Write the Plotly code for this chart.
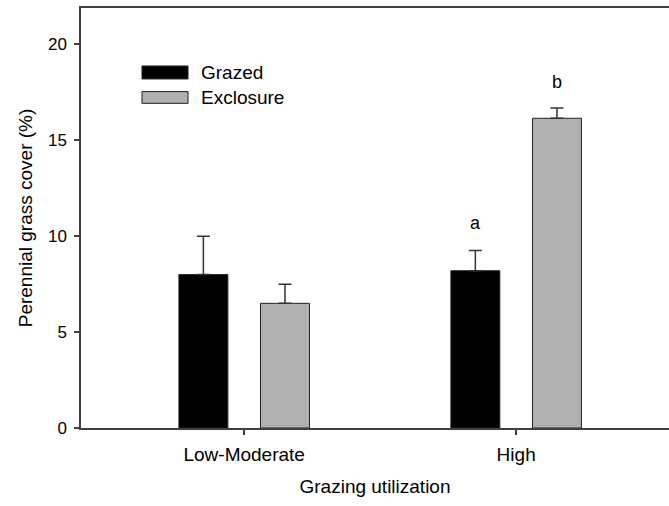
import plotly.graph_objects as go

categories = ["Low-Moderate", "High"]
grazed = [8.0, 8.2]
grazed_se = [2.0, 1.05]
exclosure = [6.5, 16.15]
exclosure_se = [1.0, 0.53]
letters_grazed = ["", "a"]
letters_exclosure = ["", "b"]

FONT = "Liberation Sans, Arial, sans-serif"
AX = "#404040"
GRAY = "#b0b0b0"

fig = go.Figure()
fig.add_trace(go.Bar(
    x=categories, y=grazed, name="Grazed",
    marker=dict(color="black", line=dict(color="#222", width=1)),
    width=0.18, offset=-0.24,
    error_y=dict(type="data", array=grazed_se, symmetric=False, arrayminus=[0, 0],
                 color="#333", thickness=1.5, width=6.5),
    showlegend=False,
))
fig.add_trace(go.Bar(
    x=categories, y=exclosure, name="Exclosure",
    marker=dict(color=GRAY, line=dict(color="#222", width=1)),
    width=0.18, offset=0.06,
    error_y=dict(type="data", array=exclosure_se, symmetric=False, arrayminus=[0, 0],
                 color="#333", thickness=1.5, width=6.5),
    showlegend=False,
))

# significance letters
for i, (lg, le) in enumerate(zip(letters_grazed, letters_exclosure)):
    if lg:
        fig.add_annotation(x=i - 0.15, y=grazed[i] + grazed_se[i] + 1.45, text=lg,
                           showarrow=False, font=dict(size=18, color="black", family=FONT))
    if le:
        fig.add_annotation(x=i + 0.15, y=exclosure[i] + exclosure_se[i] + 1.35, text=le,
                           showarrow=False, font=dict(size=18, color="black", family=FONT))

# custom legend
fig.add_shape(type="rect", xref="paper", yref="paper", x0=0.1037, x1=0.182, y0=0.831, y1=0.862,
              fillcolor="black", line=dict(color="#222", width=1))
fig.add_shape(type="rect", xref="paper", yref="paper", x0=0.1037, x1=0.182, y0=0.773, y1=0.801,
              fillcolor=GRAY, line=dict(color="#222", width=1))
fig.add_annotation(xref="paper", yref="paper", x=0.2, y=0.846, text="Grazed", xanchor="left",
                   yanchor="middle", showarrow=False, font=dict(size=19, color="black", family=FONT))
fig.add_annotation(xref="paper", yref="paper", x=0.2, y=0.787, text="Exclosure", xanchor="left",
                   yanchor="middle", showarrow=False, font=dict(size=19, color="black", family=FONT))

fig.update_layout(
    width=669, height=506,
    margin=dict(l=81, r=0, t=8, b=78),
    plot_bgcolor="white", paper_bgcolor="white",
    barmode="overlay",
    font=dict(family=FONT, size=18, color="black"),
    xaxis=dict(
        type="category", range=[-0.6, 1.562],
        showline=True, linecolor=AX, linewidth=1.5, mirror=True,
        ticks="outside", ticklen=5, tickcolor=AX, tickwidth=1.5,
        ticklabelstandoff=3,
        showgrid=False, zeroline=False,
        tickfont=dict(size=19, family=FONT, color="black"),
        title=dict(text="Grazing utilization", font=dict(size=19, family=FONT, color="black"),
                   standoff=16),
    ),
    yaxis=dict(
        range=[0, 21.9], tickvals=[0, 5, 10, 15, 20],
        showline=True, linecolor=AX, linewidth=1.5,
        ticks="outside", ticklen=5, tickcolor=AX, tickwidth=1.5,
        ticklabelstandoff=4,
        showgrid=False, zeroline=False,
        tickfont=dict(size=17, family=FONT, color="black"),
        title=dict(text="Perennial grass cover (%)", font=dict(size=19, family=FONT, color="black"),
                   standoff=10),
    ),
)

fig.write_html("out.html")
